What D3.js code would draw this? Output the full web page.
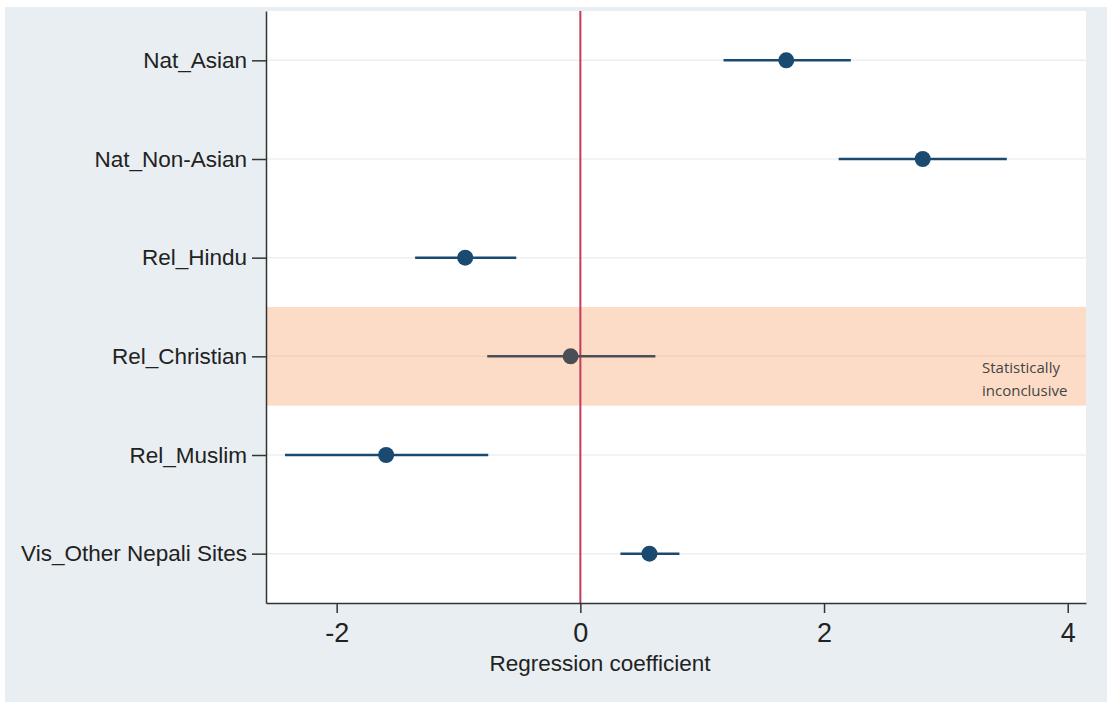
<!DOCTYPE html>
<html>
<head>
<meta charset="utf-8">
<script src="https://cdn.jsdelivr.net/npm/d3@7"></script>
<style>
  html, body { margin: 0; padding: 0; background: #ffffff; }
  #chart svg { display: block; }
</style>
</head>
<body>
<div id="chart"></div>
<script>
// Coefficient estimates and 95% intervals
const categories = ['Nat_Asian', 'Nat_Non-Asian', 'Rel_Hindu', 'Rel_Christian', 'Rel_Muslim', 'Vis_Other Nepali Sites'];
const estimates = [1.69, 2.81, -0.945, -0.08, -1.594, 0.567];
const lowerCI = [1.175, 2.12, -1.356, -0.764, -2.424, 0.329];
const upperCI = [2.22, 3.50, -0.526, 0.616, -0.756, 0.813];
const xTicks = [-2, 0, 2, 4];
const inconclusive = ['Rel_Christian'];

const width = 1107, height = 702;
const margin = { top: 11, right: 21, bottom: 99, left: 266 };
const labelFont = '"Liberation Sans", Arial, sans-serif';

const svg = d3.select('#chart')
  .append('svg')
  .attr('width', width)
  .attr('height', height);

// outer background
svg.append('rect')
  .attr('x', 5).attr('y', 7)
  .attr('width', width - 5).attr('height', height - 7)
  .attr('fill', '#e8eef1');

const x = d3.scaleLinear()
  .domain([-2.58, 4.15])
  .range([margin.left, width - margin.right]);

const y = d3.scalePoint()
  .domain(categories)
  .range([margin.top, height - margin.bottom])
  .padding(0.5);

// plot area
svg.append('rect')
  .attr('x', margin.left).attr('y', margin.top)
  .attr('width', width - margin.right - margin.left)
  .attr('height', height - margin.bottom - margin.top)
  .attr('fill', '#ffffff');

// shaded band for the inconclusive row
svg.selectAll('.band')
  .data(inconclusive)
  .enter()
  .append('rect')
  .attr('class', 'band')
  .attr('x', x.range()[0])
  .attr('y', d => y(d) - y.step() / 2)
  .attr('width', x.range()[1] - x.range()[0])
  .attr('height', y.step())
  .attr('fill', '#fddcc7');

// horizontal grid lines
svg.append('g')
  .selectAll('line')
  .data(categories)
  .enter()
  .append('line')
  .attr('x1', x.range()[0])
  .attr('x2', x.range()[1])
  .attr('y1', d => y(d))
  .attr('y2', d => y(d))
  .attr('stroke', d => inconclusive.includes(d) ? '#f4d2bd' : '#eceff2')
  .attr('stroke-width', 1.5);

// band label
inconclusive.forEach(c => {
  const lx = x.range()[1] - 104;
  const t = svg.append('text')
    .attr('x', lx)
    .attr('y', y(c) + 17)
    .style('font-family', '"Open Sans", sans-serif')
    .style('font-size', '15px')
    .style('fill', '#444');
  t.append('tspan').attr('x', lx).attr('dy', 0).text('Statistically');
  t.append('tspan').attr('x', lx).attr('dy', 23).text('inconclusive');
});

// zero reference line
svg.append('line')
  .attr('x1', x(0)).attr('x2', x(0))
  .attr('y1', margin.top).attr('y2', height - margin.bottom)
  .attr('stroke', '#c23b5c')
  .attr('stroke-width', 2);

// x axis
const xAxis = svg.append('g')
  .attr('transform', `translate(0,${height - margin.bottom})`)
  .call(d3.axisBottom(x).tickValues(xTicks).tickSize(10).tickSizeOuter(0).tickPadding(10).tickFormat(d => d));
xAxis.select('.domain').attr('stroke', '#333').attr('stroke-width', 1.5);
xAxis.selectAll('.tick line').attr('stroke', '#333').attr('stroke-width', 1.5);
xAxis.selectAll('.tick text')
  .style('font-family', labelFont)
  .style('font-size', '27px')
  .style('fill', '#222');

// y axis
const yAxis = svg.append('g')
  .attr('transform', `translate(${margin.left},0)`)
  .call(d3.axisLeft(y).tickSize(14).tickSizeOuter(0).tickPadding(5));
yAxis.select('.domain').attr('stroke', '#333').attr('stroke-width', 1.5);
yAxis.selectAll('.tick line').attr('stroke', '#333').attr('stroke-width', 1.5);
yAxis.selectAll('.tick text')
  .style('font-family', labelFont)
  .style('font-size', '22.5px')
  .style('fill', '#222');

// x axis title
svg.append('text')
  .attr('x', 600)
  .attr('y', 671)
  .attr('text-anchor', 'middle')
  .style('font-family', labelFont)
  .style('font-size', '22.5px')
  .style('fill', '#222')
  .text('Regression coefficient');

const rows = categories.map((c, i) => ({ c, est: estimates[i], lo: lowerCI[i], hi: upperCI[i] }));
const colorFor = d => inconclusive.includes(d.c) ? '#4a4e55' : '#1b4a71';

// confidence intervals
svg.append('g')
  .selectAll('line')
  .data(rows)
  .enter()
  .append('line')
  .attr('x1', d => x(d.lo))
  .attr('x2', d => x(d.hi))
  .attr('y1', d => y(d.c))
  .attr('y2', d => y(d.c))
  .attr('stroke', colorFor)
  .attr('stroke-width', 2.5);

// point estimates
svg.append('g')
  .selectAll('circle')
  .data(rows)
  .enter()
  .append('circle')
  .attr('cx', d => x(d.est))
  .attr('cy', d => y(d.c))
  .attr('r', 8)
  .attr('fill', colorFor);
</script>
</body>
</html>
